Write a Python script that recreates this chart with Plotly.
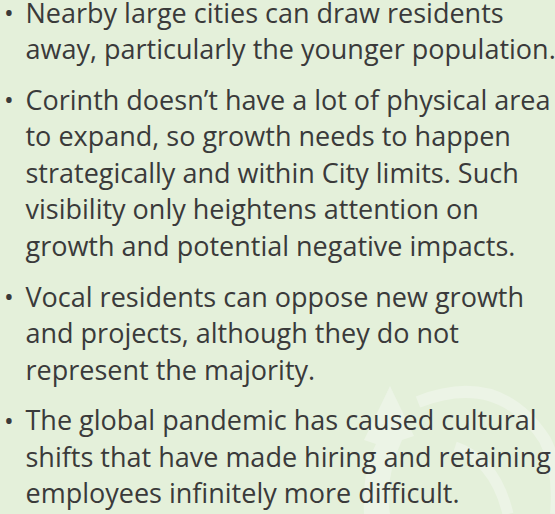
import plotly.graph_objects as go

# Content: bullet points, each a list of wrapped lines
bullets = [
    ["Nearby large cities can draw residents",
     "away, particularly the younger population."],
    ["Corinth doesn\u2019t have a lot of physical area",
     "to expand, so growth needs to happen",
     "strategically and within City limits. Such",
     "visibility only heightens attention on",
     "growth and potential negative impacts."],
    ["Vocal residents can oppose new growth",
     "and projects, although they do not",
     "represent the majority."],
    ["The global pandemic has caused cultural",
     "shifts that have made hiring and retaining",
     "employees infinitely more difficult."],
]

W, H = 555, 514
BG = "#e4f0da"
TEXT = "#3a3a3a"
FONT = "Open Sans"
FS = 27
LINE = 36.6
PARA = 50.5
FIRST = 15.8

xs, ys, texts = [], [], []
bx, by = [], []
y = FIRST
for lines in bullets:
    bx.append(4)
    by.append(y)
    for i, ln in enumerate(lines):
        xs.append(25.5)
        ys.append(y)
        texts.append(ln)
        if i < len(lines) - 1:
            y += LINE
    y += PARA

fig = go.Figure()
fig.add_trace(go.Scatter(
    x=xs, y=ys, text=texts, mode="text", textposition="middle right",
    textfont=dict(family=FONT, size=FS, color=TEXT), hoverinfo="skip",
    showlegend=False))
fig.add_trace(go.Scatter(
    x=bx, y=by, text=["\u2022"] * len(bx), mode="text", textposition="middle right",
    textfont=dict(family=FONT, size=26, color=TEXT), hoverinfo="skip",
    showlegend=False))

WM = "#ecf4e6"
shapes = [
    dict(type="path", xref="x", yref="y", layer="below",
         path="M 418 402 Q 500 370 545 440 Q 560 470 556 514",
         line=dict(color=WM, width=12)),
    dict(type="path", xref="x", yref="y", layer="below",
         path="M 455 447 Q 495 460 508 514",
         line=dict(color=WM, width=11)),
    dict(type="path", xref="x", yref="y", layer="below",
         path="M 390 386 L 414 436 L 402 440 Q 384 480 390 514 L 364 514 Q 362 470 376 444 L 364 440 Z",
         fillcolor=WM, line=dict(width=0)),
]

fig.update_layout(
    width=W, height=H, margin=dict(l=0, r=0, t=0, b=0),
    paper_bgcolor=BG, plot_bgcolor=BG, shapes=shapes,
    xaxis=dict(range=[0, W], visible=False, fixedrange=True),
    yaxis=dict(range=[H, 0], visible=False, fixedrange=True),
)
fig.write_html("out.html", config={"displayModeBar": False, "staticPlot": True},
               post_script="document.body.style.margin='0';document.body.style.background='" + BG + "';document.body.style.overflow='hidden';")
